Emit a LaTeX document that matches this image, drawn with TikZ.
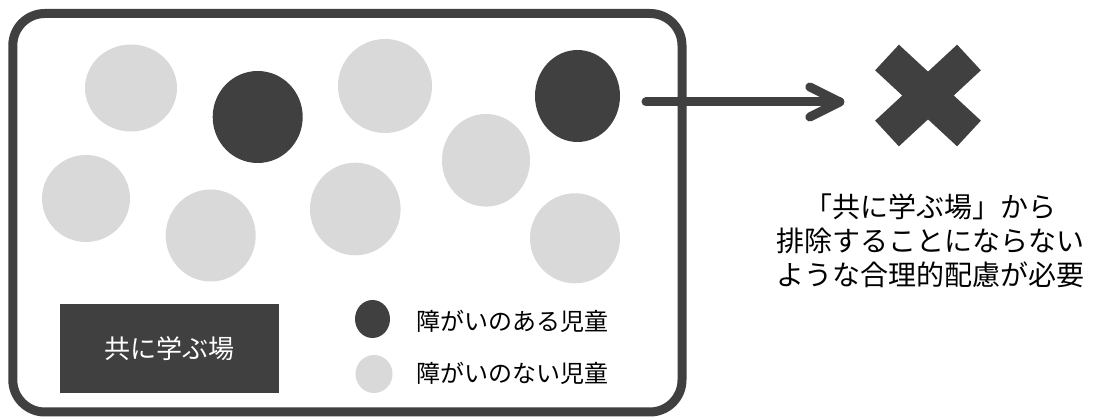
\documentclass[tikz,border=0pt]{standalone}
\usepackage{fontspec}
\newfontfamily\jp{Noto Sans CJK JP}
\usetikzlibrary{shapes.geometric,calc}
\definecolor{dk}{HTML}{404040}
\definecolor{lgray}{HTML}{D9D9D9}
\begin{document}
\begin{tikzpicture}[x=1pt,y=-1pt,font=\jp,
  kid/.style={ellipse,inner sep=0pt,draw=none},
  dkid/.style={kid,fill=dk},
  gkid/.style={kid,fill=lgray},
  frame/.style={draw=dk,line width=9pt,rounded corners=32pt},
  conn/.style={draw=dk,line width=9pt,line cap=round,line join=round},
  legtext/.style={anchor=west,inner sep=0pt,text=black,font=\jp\fontsize{24}{28}\selectfont},
  placebox/.style={fill=dk,text=white,inner sep=0pt,minimum width=219pt,minimum height=89pt,font=\jp\fontsize{26}{30}\selectfont},
  note/.style={align=center,inner sep=0pt,text=black,font=\jp\fontsize{28}{34}\selectfont},
  crossarm/.style={draw=dk,line width=35pt,line cap=butt}]
\useasboundingbox (0,0) rectangle (1093,419);
\fill[white] (0,0) rectangle (1093,419);
% frame
\draw[frame] (12.8,13.5) rectangle (682,412);
% children
\node[gkid,minimum width=92pt,minimum height=87pt] (g1) at (131,88) {};
\node[dkid,minimum width=90pt,minimum height=92pt] (d1) at (257.7,117) {};
\node[gkid,minimum width=94pt,minimum height=94pt] (g2) at (385,86) {};
\node[dkid,minimum width=85pt,minimum height=92pt] (d2) at (577.5,96) {};
\node[gkid,minimum width=88pt,minimum height=92.6pt] (g3) at (486,160.3) {};
\node[gkid,minimum width=88pt,minimum height=87pt] (g4) at (86,198.5) {};
\node[gkid,minimum width=90pt,minimum height=92pt] (g5) at (210.7,235.5) {};
\node[gkid,minimum width=90.6pt,minimum height=92.6pt] (g6) at (355.3,209) {};
\node[gkid,minimum width=90pt,minimum height=90pt] (g7) at (575,238.3) {};
% legend
\node[placebox] (place) at (169,348.3) {共に学ぶ場};
\node[dkid,minimum width=35pt,minimum height=38pt] (ld) at (372.5,319) {};
\node[gkid,minimum width=37pt,minimum height=38pt] (lg) at (374,374) {};
\node[legtext] (ldt) at (416,321) {障がいのある児童};
\node[legtext] (lgt) at (416,373) {障がいのない児童};
% cross
\node[minimum width=106pt,minimum height=101pt,inner sep=0pt] (X) at (928,95.5) {};
\draw[crossarm] ($(X.center)+(-41,-38)$) -- ($(X.center)+(41,38)$);
\draw[crossarm] ($(X.center)+(41,-38)$) -- ($(X.center)+(-41,38)$);
% arrow
\coordinate (as) at (646,102);
\coordinate (tip) at ([xshift=-35pt]X.west |- as);
\draw[conn] (as) -- (tip);
\draw[conn] ($(tip)+(-30,-15)$) -- (tip) -- ($(tip)+(-30,15)$);
% note
\node[note] (noteT) at (930,241) {「共に学ぶ場」から\\排除することにならない\\ような合理的配慮が必要};
\end{tikzpicture}
\end{document}
